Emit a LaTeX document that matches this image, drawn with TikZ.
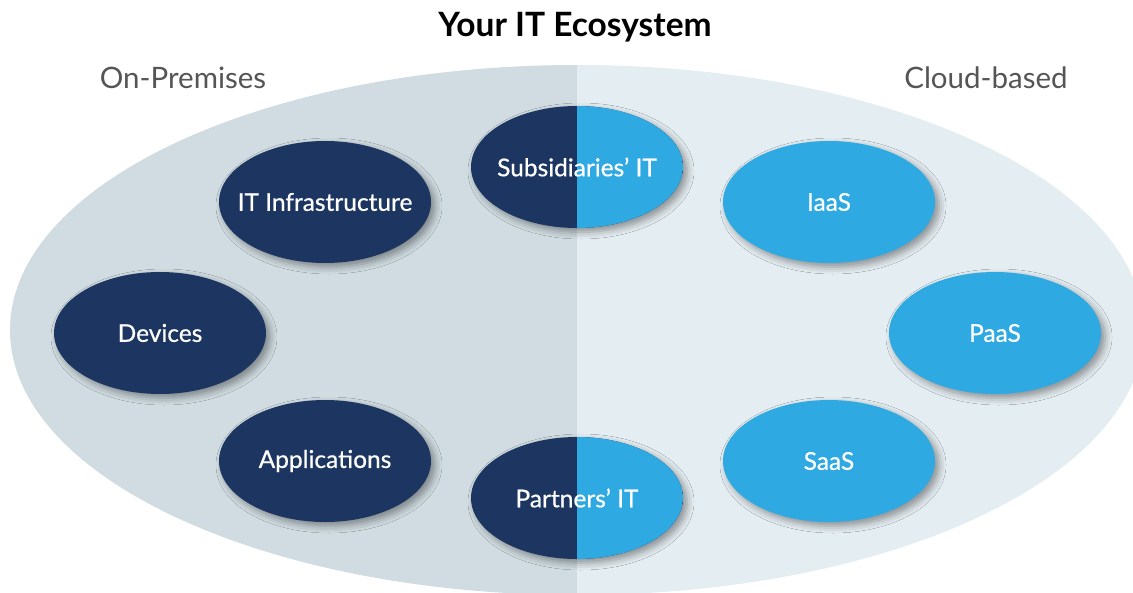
\documentclass[tikz,border=0pt]{standalone}
\usepackage{fontspec}
\setmainfont{Lato}
\newfontfamily\labelfont[FakeBold=0.6]{Lato}
\usetikzlibrary{shapes.geometric,shadows.blur}
\definecolor{premfill}{HTML}{D0DCE1}
\definecolor{cloudfill}{HTML}{E4EDF2}
\definecolor{navy}{HTML}{1C3661}
\definecolor{sky}{HTML}{2EA9E1}
\definecolor{sidetext}{HTML}{555555}
\tikzset{
  item/.style={ellipse, minimum width=212pt, minimum height=122pt, inner sep=0pt,
    blur shadow={shadow xshift=4pt, shadow yshift=-4pt, shadow blur radius=7pt, shadow opacity=40},
    label={[itemtext]center:#1}},
  itemtext/.style={text=white, inner sep=0pt, font=\labelfont\fontsize{24.5}{28}\selectfont},
  onprem/.style={item=#1, fill=navy},
  cloud/.style={item=#1, fill=sky},
  split/.style={item=#1, fill=navy,
    path picture={\fill[sky] (path picture bounding box.north) rectangle (path picture bounding box.south east);}},
  side/.style={text=sidetext, font=\fontsize{29.5}{32}\selectfont},
  heading/.style={text=black, font=\bfseries\fontsize{33.5}{36}\selectfont}
}
\begin{document}
\begin{tikzpicture}[x=1pt, y=-1pt]
\useasboundingbox (0,0) rectangle (1133,592);
% the two halves of the ecosystem
\begin{scope}
  \clip (0,0) rectangle (577,592);
  \fill[premfill] (577,330) ellipse [x radius=567, y radius=265];
\end{scope}
\begin{scope}
  \clip (577,0) rectangle (1133,592);
  \fill[cloudfill] (577,330) ellipse [x radius=567, y radius=265];
\end{scope}

\node[heading] (title) at (575,27) {Your IT Ecosystem};
\node[side] (prem) at (183,78) {On-Premises};
\node[side] (cloudlbl) at (986,78) {Cloud-based};

\node[onprem={IT Infrastructure}] (infra) at (325,202) {};
\node[onprem={Devices}] (devices) at (160,333) {};
\node[onprem={Applications}] (apps) at (325,461) {};

\node[split={Subsidiaries’ IT}] (subs) at (577,167) {};
\node[split={Partners’ IT}] (partners) at (577,498) {};

\node[cloud={IaaS}] (iaas) at (829,202) {};
\node[cloud={PaaS}] (paas) at (995,333) {};
\node[cloud={SaaS}] (saas) at (829,461) {};
\end{tikzpicture}
\end{document}
